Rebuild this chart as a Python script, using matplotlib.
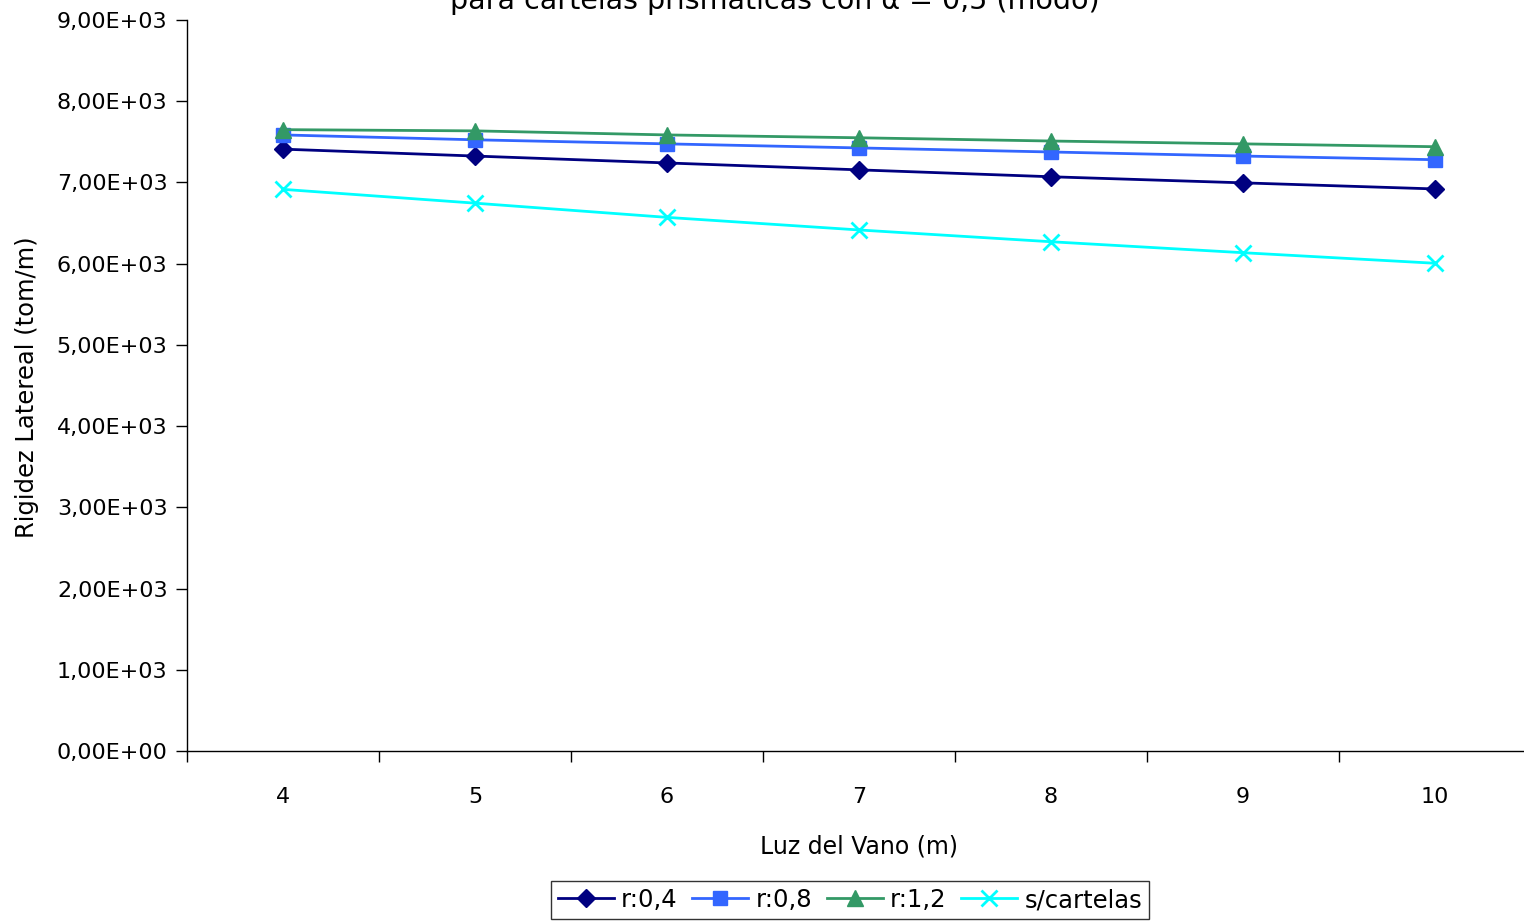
import numpy as np
import matplotlib
matplotlib.use("Agg")
import matplotlib.pyplot as plt
from matplotlib.ticker import FuncFormatter, FixedLocator

# --- Datos ---
luz = [4, 5, 6, 7, 8, 9, 10]
r04 = [7410, 7325, 7240, 7155, 7070, 6995, 6920]
r08 = [7585, 7525, 7475, 7425, 7375, 7325, 7280]
r12 = [7650, 7635, 7585, 7550, 7510, 7475, 7440]
s_cartelas = [6915, 6745, 6570, 6415, 6270, 6135, 6005]

series_names = ["r:0,4", "r:0,8", "r:1,2", "s/cartelas"]
titulo = "para cartelas prismáticas con α = 0,5 (modo)"

plt.rcParams["font.family"] = ["DejaVu Sans"]

fig = plt.figure(figsize=(15.24, 9.22), dpi=100)
ax = fig.add_axes([187 / 1524, 1 - 751 / 922, 1344 / 1524, 731 / 922])

x = np.array(luz)
ax.plot(x, r04, color="#000080", marker="D", markersize=9, linewidth=2, label=series_names[0])
ax.plot(x, r08, color="#3366FF", marker="s", markersize=10, linewidth=2, label=series_names[1])
ax.plot(x, r12, color="#339966", marker="^", markersize=11, linewidth=2, label=series_names[2])
ax.plot(x, s_cartelas, color="#00FFFF", marker="x", markersize=11, markeredgewidth=2,
        linewidth=2, label=series_names[3])

ax.set_xlim(3.5, 10.5)
ax.set_ylim(0, 9000)
ax.set_yticks(np.arange(0, 9001, 1000))
ax.yaxis.set_major_formatter(FuncFormatter(lambda v, p: f"{v:.2E}".replace(".", ",")))

# marcas en los bordes de categoría, etiquetas en el centro
ax.xaxis.set_major_locator(FixedLocator(np.arange(3.5, 10.6, 1)))
ax.xaxis.set_minor_locator(FixedLocator(luz))
ax.xaxis.set_major_formatter(FuncFormatter(lambda v, p: ""))
ax.xaxis.set_minor_formatter(FuncFormatter(lambda v, p: f"{int(v)}"))
ax.tick_params(axis="x", which="major", direction="out", length=8, width=1)
ax.tick_params(axis="x", which="minor", length=0, pad=26, labelsize=16)
ax.tick_params(axis="y", direction="out", length=8, width=1, labelsize=16, pad=6)

for s in ["top", "right"]:
    ax.spines[s].set_visible(False)
ax.spines["left"].set_linewidth(1)
ax.spines["bottom"].set_linewidth(1)

ax.set_xlabel("Luz del Vano (m)", fontsize=17, labelpad=20)
fig.text(27 / 1524, 1 - 387 / 922, "Rigidez Latereal (tom/m)", rotation=90,
         ha="center", va="center", fontsize=17.5)

fig.text(775 / 1524, 1 - 9 / 922, titulo, ha="center", va="baseline", fontsize=20.5)

leg = fig.legend(loc="center", bbox_to_anchor=(850 / 1524, 1 - 900 / 922), ncol=4,
                 fontsize=17.5, frameon=True, fancybox=False, handlelength=2.3,
                 handletextpad=0.3, columnspacing=0.6, borderpad=0.3)
leg.get_frame().set_edgecolor("black")
leg.get_frame().set_linewidth(1)

fig.savefig("out.png", dpi=100)
